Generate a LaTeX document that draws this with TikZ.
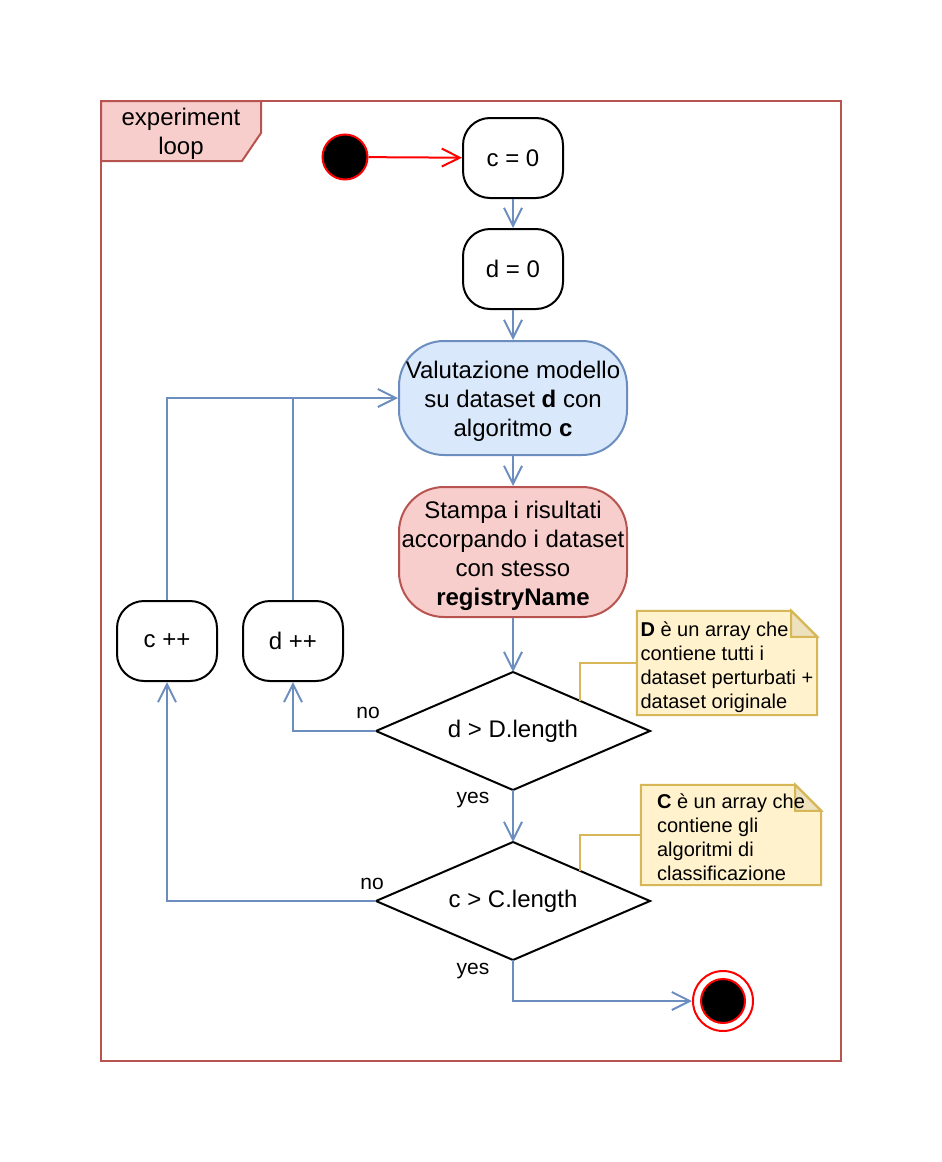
\documentclass[tikz,border=0pt]{standalone}
\usepackage{fontspec}
\setmainfont{Liberation Sans}
\usetikzlibrary{arrows.meta,shapes.geometric,calc,backgrounds}
\definecolor{bluefill}{HTML}{DAE8FC}
\definecolor{bluedraw}{HTML}{6C8EBF}
\definecolor{redfill}{HTML}{F8CECC}
\definecolor{reddraw}{HTML}{B85450}
\definecolor{notefill}{HTML}{FFF2CC}
\definecolor{notedraw}{HTML}{D6B656}
\colorlet{notefold}{notefill!93!black}
\begin{document}
\begin{tikzpicture}[x=1pt,y=-1pt,
  act/.style={draw=black, line width=2pt, rounded corners=27pt, minimum width=100pt,
    minimum height=80pt, inner sep=0pt, align=center, fill=white,
    font=\fontsize{24}{29}\selectfont},
  bigact/.style={act, rounded corners=45pt, minimum width=228pt},
  dec/.style={diamond, aspect=2.32, draw=black, line width=2pt, minimum width=274pt, minimum height=118pt,
    inner sep=0pt, outer sep=0pt, fill=white, font=\fontsize{24}{29}\selectfont},
  flowline/.style={draw=bluedraw, line width=2pt},
  flow/.style={flowline, -{Straight Barb[length=18pt,width=18pt]}},
  lbl/.style={font=\fontsize{21}{25}\selectfont, inner sep=0pt},
  notespace/.style={minimum width=180pt, inner sep=0pt, align=left,
    font=\fontsize{20}{24}\selectfont},
  notebg/.style={fill=notefill, draw=notedraw, line width=2pt, line join=miter},
  notelink/.style={draw=notedraw, line width=2pt}
]
\useasboundingbox (0,0) rectangle (942,1162);

% frame
\draw[reddraw, line width=2pt] (101,101) rectangle (841,1061);
\filldraw[fill=redfill, draw=reddraw, line width=2pt] (101,101) -- (261,101) -- (261,133) -- (242,161) -- (101,161) -- cycle;
\node[align=center, font=\fontsize{24}{29}\selectfont, inner sep=0pt] (tab) at (181,134) {experiment\\loop};

% start / end
\node[circle, fill=black, draw=red, line width=2pt, minimum size=45pt, inner sep=0pt] (start) at (345,157) {};
\node[circle, fill=white, draw=red, line width=2pt, minimum size=60pt, inner sep=0pt] (end) at (723,1001) {};
\node[circle, fill=black, draw=red, line width=2pt, minimum size=44pt, inner sep=0pt] (endin) at (end) {};

% actions
\node[act] (c0) at (513,158) {c = 0};
\node[act] (d0) at (513,269) {d = 0};
\node[bigact, fill=bluefill, draw=bluedraw, minimum height=114pt] (val) at (513,398)
  {\rule{0pt}{23.5pt}Valutazione modello\\su dataset \textbf{d} con\\algoritmo \textbf{c}};
\node[bigact, fill=redfill, draw=reddraw, minimum height=130pt] (stampa) at (513,552)
  {\rule{0pt}{25pt}Stampa i risultati\\accorpando i dataset\\con stesso\\\textbf{registryName}};
\node[act] (cpp) at (167,641) {c ++};
\node[act] (dpp) at (293,641) {d ++};

% decisions
\node[dec] (dD) at (513,731) {d > D.length};
\node[dec] (cC) at (513,901) {c > C.length};

% notes
\node[notespace, minimum height=104pt] (noteD) at (727,663)
  {\rule{0pt}{24pt}\textbf{D} è un array che\\contiene tutti i\\dataset perturbati +\\dataset originale};
\node[notespace, minimum height=100pt] (noteC) at (731,835)
  {\rule{0pt}{19pt}\textbf{C} è un array che\\contiene gli\\algoritmi di\\classificazione};
\begin{scope}[on background layer]
  \fill[white] (0,0) rectangle (942,1162);
  \foreach \n in {noteD,noteC}{
    \path[notebg] (\n.north west) -- ([xshift=-26pt]\n.north east) -- ([yshift=-26pt]\n.north east)
      -- (\n.south east) -- (\n.south west) -- cycle;
    \path[notebg, fill=notefold] ([xshift=-26pt]\n.north east) -- ([xshift=-26pt,yshift=-26pt]\n.north east)
      -- ([yshift=-26pt]\n.north east) -- cycle;
  }
\end{scope}
\coordinate (dDnote) at ($(dD.north)!0.49!(dD.east)$);
\coordinate (cCnote) at ($(cC.north)!0.49!(cC.east)$);
\draw[notelink] (noteD.west) -| (dDnote);
\draw[notelink] (noteC.west) -| (cCnote);

% connectors
\draw[red, line width=2pt, -{Straight Barb[length=18pt,width=18pt]}] (start) -- (c0);
\draw[flow] (c0) -- (d0);
\draw[flow] (d0) -- (val);
\draw[flow] (val) -- (stampa);
\draw[flow] (stampa) -- (dD);
\draw[flow] (dD.west) -| (dpp.south);
\draw[flow] (dD.south) -- (cC.north);
\draw[flow] (cC.west) -| (cpp.south);
\draw[flow] (cpp.north) |- (val.west);
\draw[flowline] (dpp.north) -- (dpp.north |- val.west);
\draw[flow] (cC.south) |- (end.west);

% labels
\node[lbl] (no1) at (368,713) {no};
\node[lbl] (no2) at (372,884) {no};
\node[lbl] (yes1) at (473,800) {yes};
\node[lbl] (yes2) at (473,971) {yes};
\end{tikzpicture}
\end{document}
